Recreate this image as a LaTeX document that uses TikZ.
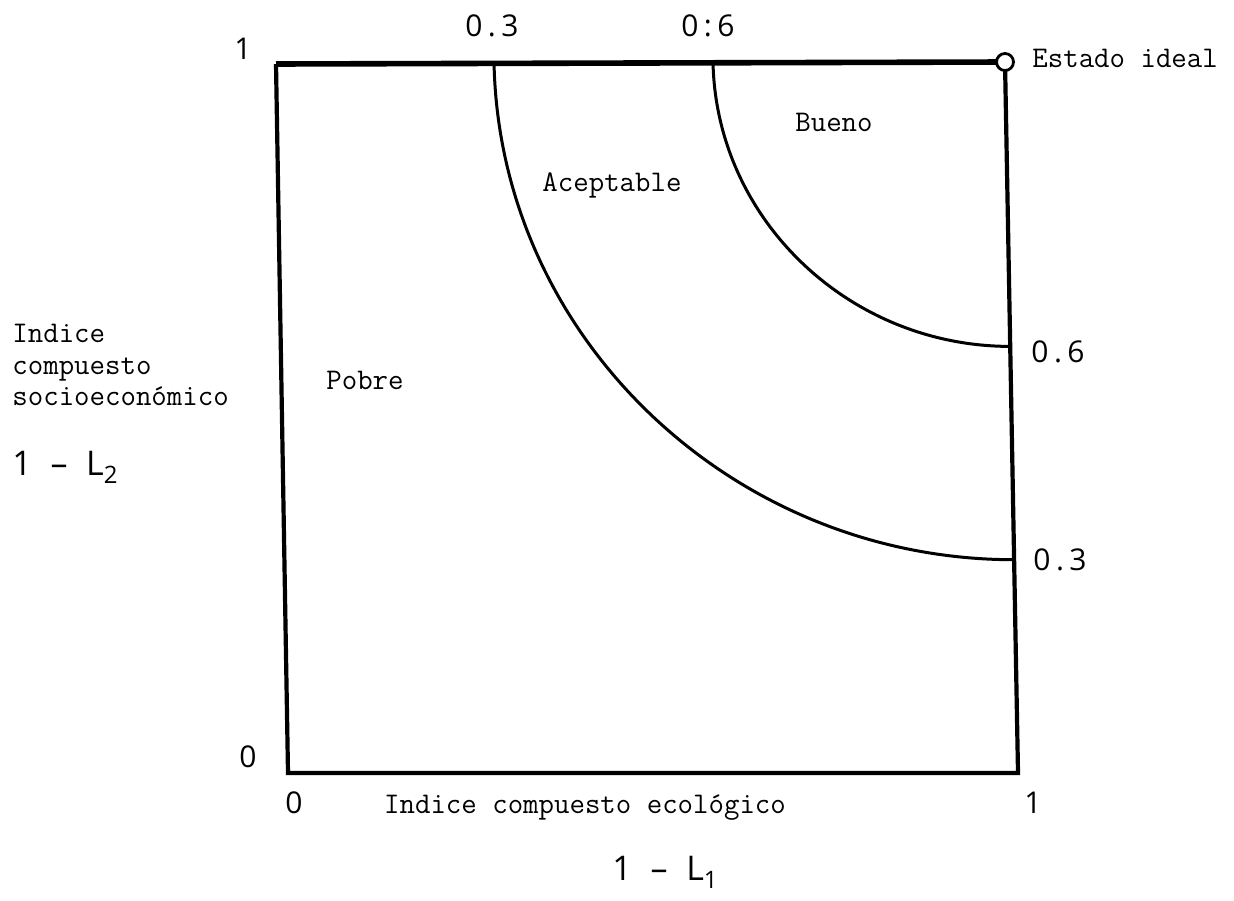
\documentclass[tikz,border=0pt]{standalone}
\usepackage{fontspec}
\newfontfamily\lett[LetterSpace=18]{Open Sans}
\newfontfamily\lettb{Open Sans}
\begin{document}
\begin{tikzpicture}[x=0.5pt,y=-0.5pt,
  txt/.style={font=\ttfamily\addfontfeatures{FakeBold=0.8}\fontsize{15}{18}\selectfont, inner sep=0pt},
  num/.style={font=\lett\fontsize{15}{18}\selectfont, inner sep=0pt},
  axl/.style={font=\lettb\fontsize{17}{20}\selectfont, inner sep=0pt},
  frame/.style={line width=2.1pt},
  topframe/.style={line width=2.8pt},
  curve/.style={line width=1.5pt}]
\useasboundingbox (0,0) rectangle (1234,900);
% corners of the (slightly skewed) square
\coordinate (TL) at (276,64);
\coordinate (TR) at (1005,62);
\coordinate (BR) at (1018,773);
\coordinate (BL) at (288,773);
\draw[frame, line join=miter] (TR) -- (BR) -- (BL) -- (TL);
\draw[topframe] (TL) -- (TR);
% iso-lines, quarter circles centred at the ideal state
\begin{scope}[shift={(TR)}, x={(365pt,0pt)}, y={(6.5pt,-355.5pt)}]
  \draw[curve] (-0.7,0) .. controls (-0.7,0.3866) and (-0.3866,0.7) .. (0,0.7);
  \draw[curve] (-0.4,0) .. controls (-0.4,0.2209) and (-0.2209,0.4) .. (0,0.4);
\end{scope}
\node[circle, draw, fill=white, line width=1.4pt, minimum size=8.5pt, inner sep=0pt] (ideal) at (TR) {};
% texts
\node[txt, anchor=base west] (estado) at (1032,67) {Estado ideal};
\node[txt] (bueno) at (834,122) {Bueno};
\node[txt] (acept) at (612,185) {Aceptable};
\node[txt] (pobre) at (365,380) {Pobre};
\node[txt, anchor=base west] (yl1) at (12,342) {Indice};
\node[txt, anchor=base west] (yl2) at (12,374) {compuesto};
\node[txt, anchor=base west] (yl3) at (12,405) {socioeconómico};
\node[axl, anchor=base west] (yform) at (12,475) {1\hspace{0.55em}–\hspace{0.55em}L\raisebox{-4pt}{\fontsize{12}{12}\selectfont 2}};
\node[txt] (xl) at (585,808) {Indice compuesto ecológico};
\node[axl] (xform) at (665,872) {1\hspace{0.55em}–\hspace{0.55em}L\raisebox{-4pt}{\fontsize{12}{12}\selectfont 1}};
% tick numbers
\node[num] (y1) at (243,49) {1};
\node[num] (t03) at (492,26) {0.3};
\node[num] (t06) at (708,26) {0:6};
\node[num] (r06) at (1058,352) {0.6};
\node[num] (r03) at (1060,560) {0.3};
\node[num] (y0) at (248,757) {0};
\node[num] (x0) at (294,803) {0};
\node[num] (x1) at (1033,803) {1};
\end{tikzpicture}
\end{document}
